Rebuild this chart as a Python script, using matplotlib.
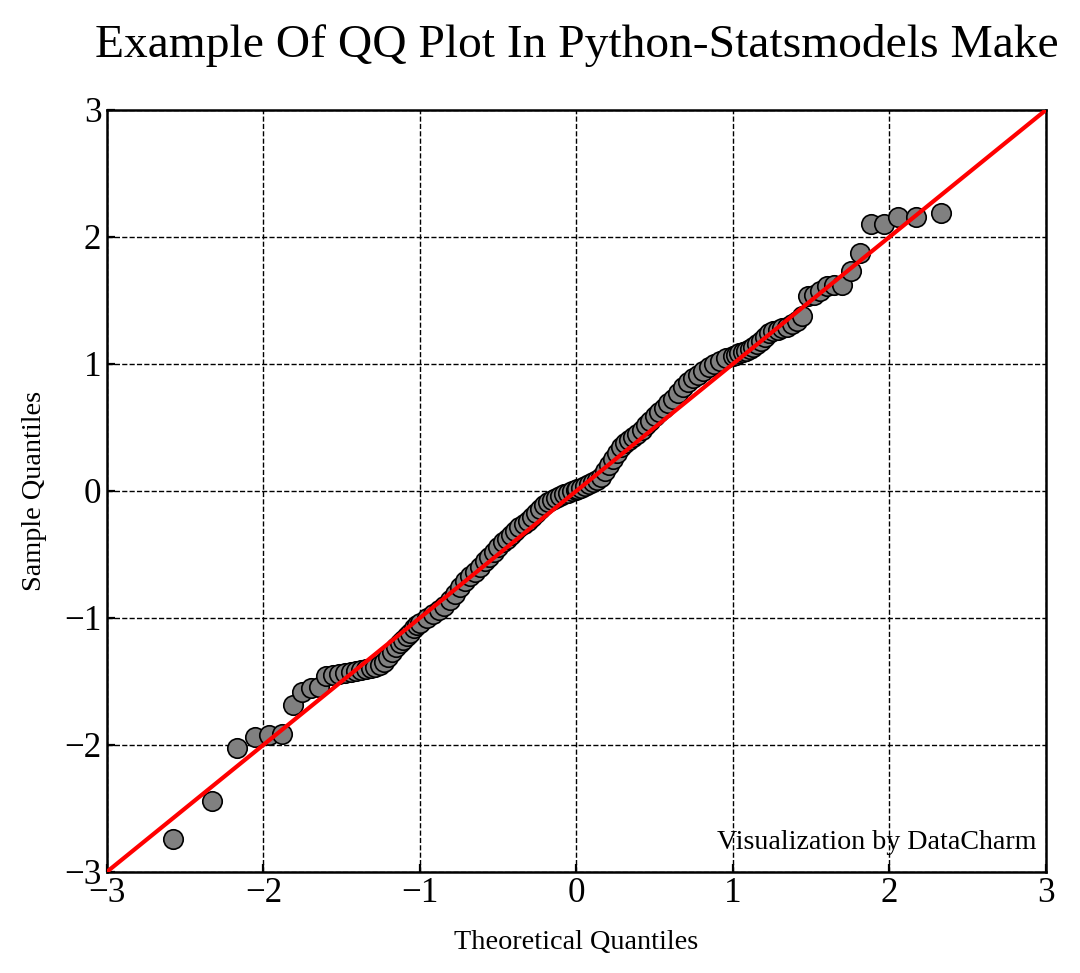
import numpy as np
import matplotlib
matplotlib.use("Agg")
import matplotlib.pyplot as plt

plt.rcParams['font.family'] = ['Liberation Serif', 'DejaVu Serif']

# theoretical quantiles, sorted
theo_q = [
    -2.577, -2.330, -2.172, -2.056, -1.962, -1.883, -1.813, -1.753, -1.698, -1.648,
    -1.601, -1.557, -1.516, -1.478, -1.442, -1.408, -1.375, -1.343, -1.314, -1.285,
    -1.257, -1.229, -1.203, -1.178, -1.153, -1.129, -1.106, -1.083, -1.061, -1.039,
    -1.018,
    -0.998, -0.957, -0.918, -0.881, -0.845, -0.810, -0.776, -0.743, -0.710, -0.678,
    -0.647, -0.617, -0.587, -0.557, -0.528, -0.500, -0.472, -0.445, -0.417, -0.390,
    -0.364, -0.337, -0.311, -0.285, -0.259, -0.233, -0.207, -0.182, -0.157, -0.131,
    -0.106, -0.081, -0.056, -0.031, -0.006,
    0.006, 0.031, 0.056, 0.081, 0.106, 0.131, 0.157, 0.182, 0.207, 0.233,
    0.259, 0.285, 0.311, 0.337, 0.364, 0.390, 0.417, 0.445, 0.472, 0.500,
    0.528, 0.557, 0.587, 0.617, 0.647, 0.678, 0.710, 0.743, 0.776, 0.810,
    0.845, 0.881, 0.918, 0.957, 0.998,
    1.018, 1.039, 1.061, 1.083, 1.106, 1.129, 1.153, 1.178, 1.203, 1.229,
    1.257, 1.285, 1.314, 1.343, 1.375, 1.408, 1.442, 1.478, 1.516, 1.557,
    1.601, 1.648, 1.698, 1.753, 1.813, 1.883, 1.962, 2.056, 2.172, 2.330,
    2.577,
]

# sample quantiles (sorted sample values), the largest one is above the top edge
sample_q = [
    -2.743, -2.446, -2.024, -1.937, -1.920, -1.918, -1.685, -1.580, -1.554, -1.541,
    -1.457, -1.449, -1.441, -1.433, -1.425, -1.417, -1.409, -1.402, -1.394, -1.386,
    -1.370, -1.346, -1.307, -1.268, -1.228, -1.197, -1.173, -1.142, -1.118, -1.079,
    -1.055,
    -1.039, -1.000, -0.969, -0.937, -0.906, -0.858, -0.811, -0.756, -0.709, -0.669,
    -0.638, -0.598, -0.551, -0.520, -0.480, -0.441, -0.402, -0.378, -0.346, -0.315,
    -0.283, -0.260, -0.236, -0.205, -0.173, -0.142, -0.110, -0.087, -0.071, -0.055,
    -0.039, -0.024, -0.016, 0.000, 0.008,
    0.016, 0.024, 0.039, 0.055, 0.071, 0.087, 0.110, 0.157, 0.205, 0.252,
    0.299, 0.346, 0.378, 0.402, 0.425, 0.449, 0.480, 0.520, 0.551, 0.591,
    0.622, 0.654, 0.693, 0.724, 0.772, 0.819, 0.858, 0.890, 0.913, 0.945,
    0.976, 1.000, 1.024, 1.047, 1.063,
    1.071, 1.087, 1.094, 1.102, 1.118, 1.134, 1.157, 1.181, 1.210, 1.240,
    1.260, 1.270, 1.280, 1.293, 1.315, 1.340, 1.378, 1.535, 1.543, 1.575,
    1.610, 1.618, 1.622, 1.735, 1.876, 2.100, 2.105, 2.155, 2.160, 2.187,
    3.250,
]

ticks = [-3, -2, -1, 0, 1, 2, 3]

fig, ax = plt.subplots(figsize=(5.4, 4.865), dpi=200)
fig.subplots_adjust(left=0.099, right=0.9685, bottom=0.104, top=0.887)

ax.plot(theo_q, sample_q, 'o', markerfacecolor='gray', markeredgecolor='k',
        markersize=7, markeredgewidth=0.6, zorder=2)
ax.plot([-3, 3], [-3, 3], color='red', lw=1.5, zorder=3)

ax.set_xlim(-3, 3)
ax.set_ylim(-3, 3)
ax.set_xticks(ticks)
ax.set_yticks(ticks)
ax.grid(True, linestyle='--', color='k', lw=0.5)
ax.set_axisbelow(True)
ax.tick_params(direction='in', labelsize=12.6, pad=2, length=3, width=0.8)
for s in ax.spines.values():
    s.set_linewidth(0.9)

ax.set_xlabel('Theoretical Quantiles', fontsize=10.2, labelpad=7)
ax.set_ylabel('Sample Quantiles', fontsize=10.2, labelpad=6)
ax.set_title('Example Of QQ Plot In Python-Statsmodels Make', fontsize=17.1, pad=19)
ax.text(0.99, 0.022, 'Visualization by DataCharm', transform=ax.transAxes,
        ha='right', va='bottom', fontsize=10.1)

fig.savefig('out.png', dpi=200)
